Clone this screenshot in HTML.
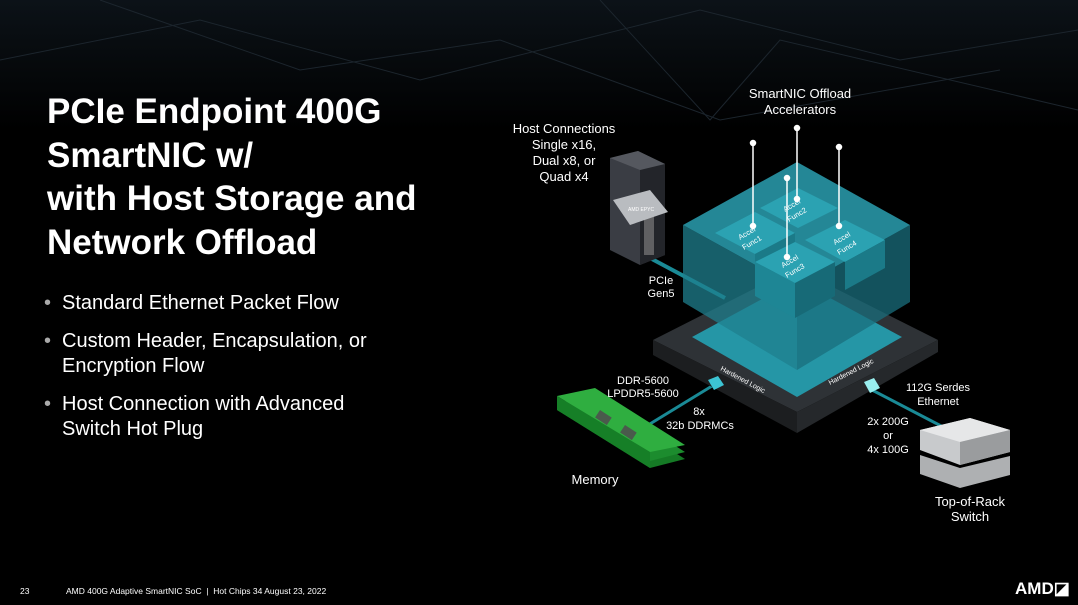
<!DOCTYPE html>
<html><head><meta charset="utf-8"><style>
html,body{margin:0;padding:0;background:#000;width:1078px;height:605px;overflow:hidden;}
#c{position:relative;width:1078px;height:605px;overflow:hidden;background:#000;font-family:"Liberation Sans",sans-serif;color:#fff;}
.t{position:absolute;left:47px;top:90px;font-size:35px;font-weight:bold;line-height:43.5px;white-space:nowrap;}
.b{position:absolute;left:47px;font-size:20px;line-height:25px;color:#fff;white-space:nowrap;}
.b span{position:absolute;left:-3px;color:#aaa;}
.b div{padding-left:15px;}
.ft{position:absolute;top:586px;font-size:8.5px;color:#fff;line-height:10px;}
svg text{font-family:"Liberation Sans",sans-serif;fill:#fff;}
</style></head><body><div id="c">
<svg width="1078" height="605" style="position:absolute;left:0;top:0">
<defs><linearGradient id="bg" x1="0" y1="0" x2="0" y2="1"><stop offset="0" stop-color="#111a22"/><stop offset="1" stop-color="#000"/></linearGradient></defs>
<rect x="0" y="0" width="1078" height="130" fill="url(#bg)" opacity="0.7"/>
<g stroke="#1c252d" stroke-width="1" fill="none">
<path d="M0 60 L200 20 L420 80 L700 10 L900 60 L1078 30"/>
<path d="M100 0 L300 70 L500 40 L720 120 L1000 70"/>
<path d="M600 0 L710 120 L780 40 L1078 110"/>
</g>
<line x1="650" y1="258" x2="725" y2="298" stroke="#1a8a96" stroke-width="4"/>
<line x1="640" y1="430" x2="712" y2="386" stroke="#1a8a96" stroke-width="3"/>
<line x1="872" y1="390" x2="945" y2="428" stroke="#1a8a96" stroke-width="3"/>
<polygon points="653,340 795,268 938,340 797,412" fill="#2e3236"/>
<polygon points="653,340 797,412 797,433 653,355" fill="#1c1e20"/>
<polygon points="938,340 797,412 797,433 938,352" fill="#25282b"/>
<polygon points="692,337 797,280 902,337 797,397" fill="#2596a6"/>
<text x="720" y="370" font-size="7" fill="#ccc" transform="rotate(28 720 370)">Hardened Logic</text>
<text x="830" y="385" font-size="7" fill="#ccc" transform="rotate(-27 830 385)">Hardened Logic</text>
<polygon points="683,225 683,302 797,370 797,288" fill="#1f7f8e" opacity="0.75"/>
<polygon points="910,225 910,302 797,370 797,288" fill="#1a6e7c" opacity="0.75"/>
<polygon points="683,225 797,162 910,225 797,288" fill="#2a9fb0" opacity="0.85"/>
<g>
<polygon points="715,233 755,212 795,233 755,254" fill="#2ba2b2"/><polygon points="755,254 795,233 795,262 755,282" fill="#1b7a88"/>
<polygon points="760,208 798,188 838,208 798,228" fill="#2ba2b2"/>
<polygon points="805,240 845,220 885,240 845,262" fill="#2ba2b2"/><polygon points="845,262 885,240 885,268 845,290" fill="#1b7a88"/>
<polygon points="755,262 795,242 835,262 795,283" fill="#2ba2b2"/><polygon points="755,262 795,283 795,318 755,296" fill="#1e8695"/><polygon points="795,283 835,262 835,296 795,318" fill="#176a77"/>
</g>
<g font-size="7.5" fill="#d8f2f5">
<text x="740" y="240" transform="rotate(-30 740 240)">Accel</text><text x="744" y="250" transform="rotate(-30 744 250)">Func1</text>
<text x="785" y="212" transform="rotate(-30 785 212)">Accel</text><text x="789" y="222" transform="rotate(-30 789 222)">Func2</text>
<text x="835" y="245" transform="rotate(-30 835 245)">Accel</text><text x="839" y="255" transform="rotate(-30 839 255)">Func4</text>
<text x="783" y="268" transform="rotate(-30 783 268)">Accel</text><text x="787" y="278" transform="rotate(-30 787 278)">Func3</text>
</g>
<g stroke="#fff" stroke-width="1.5" fill="#fff">
<line x1="753" y1="143" x2="753" y2="226"/><circle cx="753" cy="143" r="2.5"/><circle cx="753" cy="226" r="2.5"/>
<line x1="797" y1="128" x2="797" y2="199"/><circle cx="797" cy="128" r="2.5"/><circle cx="797" cy="199" r="2.5"/>
<line x1="839" y1="147" x2="839" y2="226"/><circle cx="839" cy="147" r="2.5"/><circle cx="839" cy="226" r="2.5"/>
<line x1="787" y1="178" x2="787" y2="257"/><circle cx="787" cy="178" r="2.5"/><circle cx="787" cy="257" r="2.5"/>
</g>
<polygon points="610,158 638,151 665,164 665,255 640,265 610,250" fill="#3a3d44"/>
<polygon points="640,165 665,164 665,255 640,265" fill="#23252a"/>
<polygon points="610,158 638,151 665,164 640,170" fill="#55585f"/>
<rect x="644" y="200" width="10" height="55" fill="#888" opacity="0.6"/>
<polygon points="613,200 650,190 668,212 630,225" fill="#b9bcc0"/>
<text x="628" y="211" font-size="5" fill="#444">AMD EPYC</text>
<g>
<polygon points="557,410 595,402 685,459 650,468" fill="#157a25"/>
<polygon points="557,403 595,395 685,452 650,461" fill="#1c8c2e"/>
<polygon points="557,396 595,388 685,445 650,452" fill="#2fae40"/>
<polygon points="557,396 650,452 650,468 557,410" fill="#167f27"/>
<rect x="600" y="410" width="14" height="9" fill="#4a5a4c" transform="rotate(33 600 410)"/>
<rect x="625" y="425" width="14" height="9" fill="#4a5a4c" transform="rotate(33 625 425)"/>
</g>
<polygon points="708,380 718,376 724,385 714,390" fill="#3cc3d3"/>
<polygon points="864,382 874,378 880,388 870,393" fill="#9ee"/>
<polygon points="920,430 970,418 1010,430 1010,452 960,465 920,450" fill="#c8cacc"/>
<polygon points="920,430 970,418 1010,430 960,442" fill="#e6e7e8"/>
<polygon points="920,455 960,468 1010,456 1010,475 960,488 920,474" fill="#aeb0b2"/>
<polygon points="960,442 1010,430 1010,452 960,465" fill="#9a9c9e"/>
<g font-size="13" text-anchor="middle">
<text x="800" y="98">SmartNIC Offload</text><text x="800" y="114">Accelerators</text>
<text x="564" y="133">Host Connections</text><text x="564" y="149">Single x16,</text><text x="564" y="165">Dual x8, or</text><text x="564" y="181">Quad x4</text>
<text x="595" y="484">Memory</text>
<text x="970" y="506">Top-of-Rack</text><text x="970" y="521">Switch</text>
</g>
<g font-size="11" text-anchor="middle">
<text x="661" y="284">PCIe</text><text x="661" y="297">Gen5</text>
<text x="643" y="384">DDR-5600</text><text x="643" y="397">LPDDR5-5600</text>
<text x="699" y="415">8x</text><text x="700" y="429">32b DDRMCs</text>
<text x="938" y="391">112G Serdes</text><text x="938" y="405">Ethernet</text>
<text x="888" y="425">2x 200G</text><text x="888" y="439">or</text><text x="888" y="453">4x 100G</text>
</g>
<text x="1015" y="594" font-size="17" font-weight="bold">AMD◪</text>
</svg>
<div class="t">PCIe Endpoint 400G<br>SmartNIC w/<br>with Host Storage and<br>Network Offload</div>
<div class="b" style="top:291px"><span>•</span><div>Standard Ethernet Packet Flow</div></div>
<div class="b" style="top:329px"><span>•</span><div>Custom Header, Encapsulation, or<br>Encryption Flow</div></div>
<div class="b" style="top:392px"><span>•</span><div>Host Connection with Advanced<br>Switch Hot Plug</div></div>
<div class="ft" style="left:20px">23</div>
<div class="ft" style="left:66px">AMD 400G Adaptive SmartNIC SoC &nbsp;| &nbsp;Hot Chips 34 August 23, 2022</div>
</div></body></html>
